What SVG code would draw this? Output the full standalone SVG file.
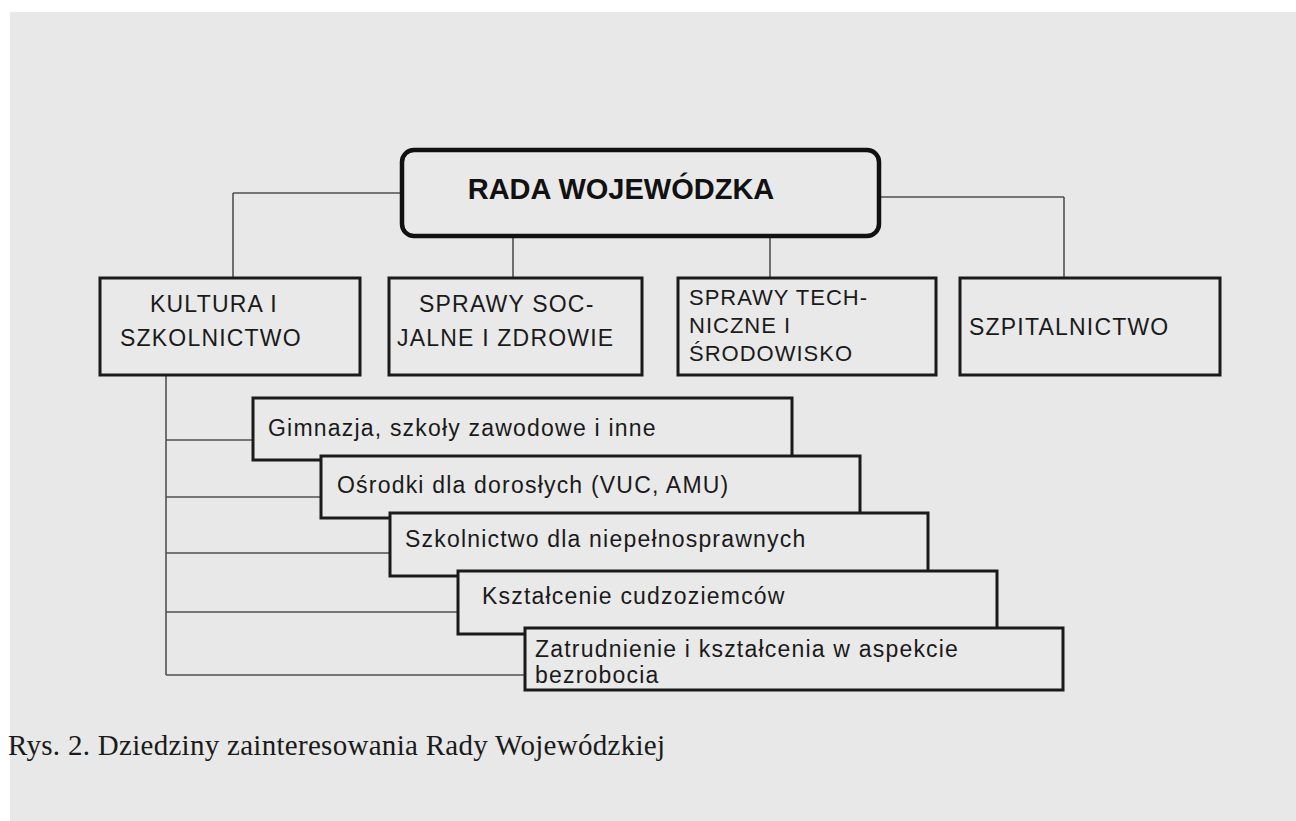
<svg xmlns="http://www.w3.org/2000/svg" width="1296" height="821" viewBox="0 0 1296 821">
<style>
.bg{fill:#e8e8e8}
.box{fill:#e9e9e9;stroke:#1a1a1a;stroke-width:3}
.top{fill:#e9e9e9;stroke:#111;stroke-width:4.5}
.conn line{stroke:#505050;stroke-width:1.6}
.t{font-family:"Liberation Sans",Arial,sans-serif;font-size:23px;letter-spacing:1.2px;fill:#1a1a1a}
.ts{font-family:"Liberation Sans",Arial,sans-serif;font-size:22px;letter-spacing:1px;fill:#1a1a1a}
.tt{font-family:"Liberation Sans",Arial,sans-serif;font-size:29px;font-weight:bold;fill:#111}
.cap{font-family:"Liberation Serif","Times New Roman",serif;font-size:29px;fill:#1a1a1a}
</style>
<rect x="0" y="0" width="1296" height="821" fill="#ffffff"/>
<rect class="bg" x="10" y="12" width="1286" height="809"/>
<g id="connectors" class="conn">
<line x1="233" y1="193" x2="402" y2="193"/>
<line x1="233" y1="193" x2="233" y2="278"/>
<line x1="879" y1="197" x2="1064" y2="197"/>
<line x1="1064" y1="197" x2="1064" y2="278"/>
<line x1="513" y1="236" x2="513" y2="278"/>
<line x1="770" y1="236" x2="770" y2="278"/>
<line x1="166" y1="375" x2="166" y2="675"/>
<line x1="166" y1="440" x2="253" y2="440"/>
<line x1="166" y1="497" x2="321" y2="497"/>
<line x1="166" y1="553" x2="390" y2="553"/>
<line x1="166" y1="612" x2="458" y2="612"/>
<line x1="166" y1="675" x2="525" y2="675"/>
</g>
<g id="rada">
<rect class="top" x="402" y="150" width="477" height="86" rx="12"/>
<text class="tt" x="621" y="199" text-anchor="middle">RADA WOJEWÓDZKA</text>
</g>
<g id="kultura">
<rect class="box" x="100" y="278" width="260" height="97"/>
<text class="t" x="150" y="312">KULTURA I</text>
<text class="t" x="120" y="346">SZKOLNICTWO</text>
</g>
<g id="socjalne">
<rect class="box" x="389" y="278" width="253" height="97"/>
<text class="t" x="419" y="312">SPRAWY SOC-</text>
<text class="t" x="397" y="346">JALNE I ZDROWIE</text>
</g>
<g id="techniczne">
<rect class="box" x="678" y="278" width="258" height="97"/>
<text class="ts" x="689" y="305">SPRAWY TECH-</text>
<text class="ts" x="689" y="333">NICZNE I</text>
<text class="ts" x="689" y="361">ŚRODOWISKO</text>
</g>
<g id="szpitalnictwo">
<rect class="box" x="960" y="278" width="260" height="97"/>
<text class="t" x="969" y="335">SZPITALNICTWO</text>
</g>
<g id="gimnazja">
<rect class="box" x="253" y="398" width="539" height="62"/>
<text class="t" x="268" y="436">Gimnazja, szkoły zawodowe i inne</text>
</g>
<g id="osrodki">
<rect class="box" x="321" y="456" width="539" height="62"/>
<text class="t" x="337" y="493">Ośrodki dla dorosłych (VUC, AMU)</text>
</g>
<g id="niepelnosprawni">
<rect class="box" x="390" y="513" width="538" height="63"/>
<text class="t" x="405" y="547">Szkolnictwo dla niepełnosprawnych</text>
</g>
<g id="cudzoziemcy">
<rect class="box" x="458" y="571" width="539" height="63"/>
<text class="t" x="482" y="604">Kształcenie cudzoziemców</text>
</g>
<g id="zatrudnienie">
<rect class="box" x="525" y="628" width="538" height="62"/>
<text class="t" x="535" y="657">Zatrudnienie i kształcenia w aspekcie</text>
<text class="t" x="535" y="683">bezrobocia</text>
</g>
<text class="cap" x="8" y="755" textLength="657" lengthAdjust="spacing">Rys. 2. Dziedziny zainteresowania Rady Wojewódzkiej</text>
</svg>
